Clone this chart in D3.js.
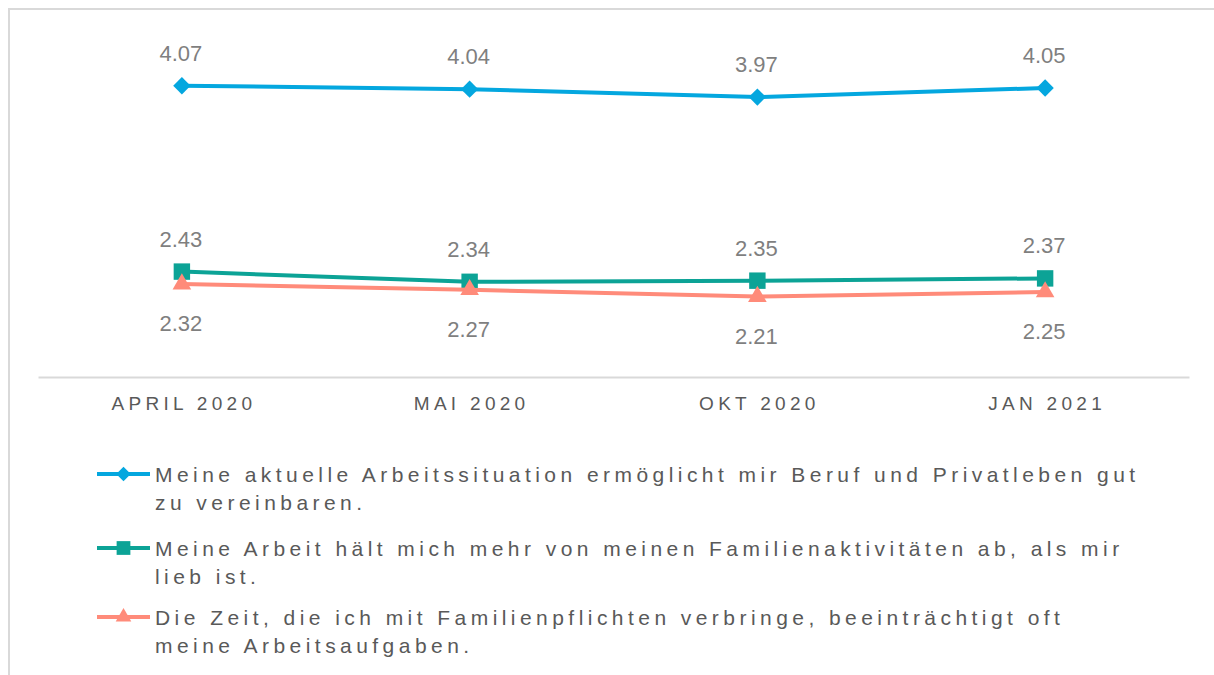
<!DOCTYPE html>
<html>
<head>
<meta charset="utf-8">
<script src="https://cdn.jsdelivr.net/npm/d3@7"></script>
<style>
  body { margin: 0; background: #fff; }
  svg { display: block; font-family: "Liberation Sans", Arial, sans-serif; }
</style>
</head>
<body>
<script>
// categories on the x axis
var months = ["APRIL 2020", "MAI 2020", "OKT 2020", "JAN 2021"];

// the three survey items
var balanceValues = [4.07, 4.04, 3.97, 4.05];
var workValues = [2.43, 2.34, 2.35, 2.37];
var familyValues = [2.32, 2.27, 2.21, 2.25];

// legend texts, already split in lines like the original
var balanceLabel = ["Meine aktuelle Arbeitssituation ermöglicht mir Beruf und Privatleben gut", "zu vereinbaren."];
var workLabel = ["Meine Arbeit hält mich mehr von meinen Familienaktivitäten ab, als mir", "lieb ist."];
var familyLabel = ["Die Zeit, die ich mit Familienpflichten verbringe, beeinträchtigt oft", "meine Arbeitsaufgaben."];

var yDomain = [1.5, 4.5];

// diamond = square turned 45 degrees
var series = [
  {values: balanceValues, label: balanceLabel, color: "#04a7df", symbol: d3.symbolSquare, size: 150, rotate: 45, labelPos: "above"},
  {values: workValues, label: workLabel, color: "#0ca396", symbol: d3.symbolSquare, size: 270, rotate: 0, labelPos: "above"},
  {values: familyValues, label: familyLabel, color: "#ff8b7a", symbol: d3.symbolTriangle, size: 150, rotate: 0, labelPos: "below"}
];

var width = 1214, height = 675;

var svg = d3.select("body").append("svg")
  .attr("width", width)
  .attr("height", height);

// chart frame (runs off the right and bottom of the picture)
svg.append("rect")
  .attr("x", 9).attr("y", 9)
  .attr("width", 1240).attr("height", 700)
  .style("fill", "none")
  .style("stroke", "#d9d9d9")
  .style("stroke-width", 2);

// scales
var xScale = d3.scaleBand()
  .domain(months)
  .range([38, 1189]);

var yScale = d3.scaleLinear()
  .domain(yDomain)
  .range([377, 37]);

function cx(i) { return xScale(months[i]) + xScale.bandwidth() / 2; }

// x axis
var xAxis = svg.append("g")
  .attr("transform", "translate(0,377)")
  .call(d3.axisBottom(xScale).tickSize(0).tickPadding(20));

xAxis.select(".domain")
  .attr("stroke", "#d9d9d9")
  .attr("stroke-width", 2);

xAxis.selectAll("text")
  .attr("dx", "2px")
  .style("font-family", "'Liberation Sans', Arial, sans-serif")
  .style("font-size", "19px")
  .style("letter-spacing", "4.3px")
  .style("fill", "#595959");

// lines, markers and value labels
var line = d3.line()
  .x(function(d, i) { return cx(i); })
  .y(function(d) { return yScale(d); });

series.forEach(function(s) {
  svg.append("path")
    .datum(s.values)
    .attr("d", line)
    .style("fill", "none")
    .style("stroke", s.color)
    .style("stroke-width", 4);

  svg.selectAll(null)
    .data(s.values)
    .enter()
    .append("path")
    .attr("d", d3.symbol().type(s.symbol).size(s.size))
    .attr("transform", function(d, i) { return "translate(" + cx(i) + "," + yScale(d) + ") rotate(" + s.rotate + ")"; })
    .style("fill", s.color);

  svg.selectAll(null)
    .data(s.values)
    .enter()
    .append("text")
    .attr("x", function(d, i) { return cx(i) - 1; })
    .attr("y", function(d) { return s.labelPos == "above" ? yScale(d) - 25 : yScale(d) + 47; })
    .attr("text-anchor", "middle")
    .style("font-size", "22px")
    .style("fill", "#7f7f7f")
    .text(function(d) { return d.toFixed(2); });
});

// legend
var legendTop = [474, 548, 617];

series.forEach(function(s, k) {
  var y = legendTop[k];
  svg.append("line")
    .attr("x1", 97).attr("x2", 150)
    .attr("y1", y).attr("y2", y)
    .style("stroke", s.color)
    .style("stroke-width", 4);

  svg.append("path")
    .attr("d", d3.symbol().type(s.symbol).size(s.size * 0.7))
    .attr("transform", "translate(123.5," + y + ") rotate(" + s.rotate + ")")
    .style("fill", s.color);

  var t = svg.append("text")
    .attr("x", 155)
    .attr("y", y + 8)
    .style("font-size", "21px")
    .style("letter-spacing", "4.45px")
    .style("fill", "#595959");

  s.label.forEach(function(part, j) {
    t.append("tspan")
      .attr("x", 155)
      .attr("dy", j == 0 ? 0 : 28)
      .text(part);
  });
});
</script>
</body>
</html>
